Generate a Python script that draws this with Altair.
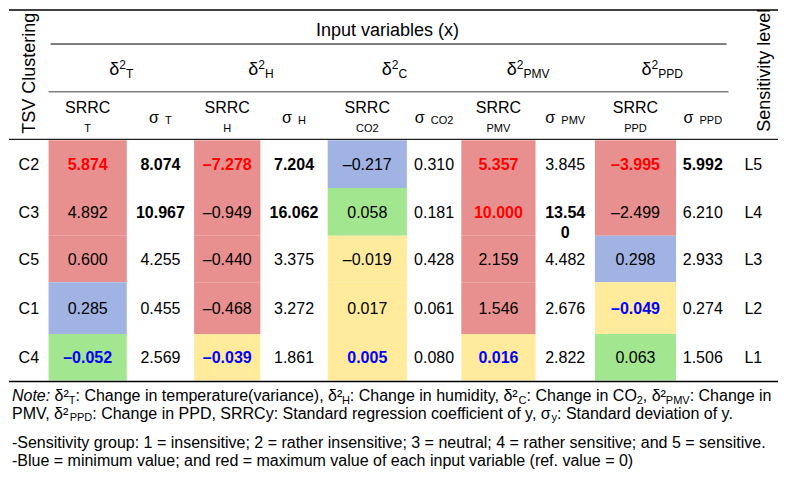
import altair as alt
import pandas as pd

# ---------------- data ----------------
clusters = ["C2", "C3", "C5", "C1", "C4"]
levels = ["L5", "L4", "L3", "L2", "L1"]

srrc_T = [5.874, 4.892, 0.600, 0.285, -0.052]
sigma_T = [8.074, 10.967, 4.255, 0.455, 2.569]
srrc_H = [-7.278, -0.949, -0.440, -0.468, -0.039]
sigma_H = [7.204, 16.062, 3.375, 3.272, 1.861]
srrc_CO2 = [-0.217, 0.058, -0.019, 0.017, 0.005]
sigma_CO2 = [0.310, 0.181, 0.428, 0.061, 0.080]
srrc_PMV = [5.357, 10.000, 2.159, 1.546, 0.016]
sigma_PMV = [3.845, 13.540, 4.482, 2.676, 2.822]
srrc_PPD = [-3.995, -2.499, 0.298, -0.049, 0.063]
sigma_PPD = [5.992, 6.210, 2.933, 0.274, 1.506]

# colour band of each SRRC cell
band_T = ["red", "red", "red", "blue", "green"]
band_H = ["red", "red", "red", "red", "yellow"]
band_CO2 = ["blue", "green", "yellow", "yellow", "yellow"]
band_PMV = ["red", "red", "red", "red", "yellow"]
band_PPD = ["red", "red", "blue", "yellow", "green"]

# highlighted extremes in each SRRC column
extreme_T = ["max", "", "", "", "min"]
extreme_H = ["max", "", "", "", "min"]
extreme_CO2 = ["", "", "", "", "min"]
extreme_PMV = ["max", "max", "", "", "min"]
extreme_PPD = ["max", "", "", "min", ""]

# bold sigma entries
bold_T = [1, 1, 0, 0, 0]
bold_H = [1, 1, 0, 0, 0]
bold_CO2 = [0, 0, 0, 0, 0]
bold_PMV = [0, 1, 0, 0, 0]
bold_PPD = [1, 0, 0, 0, 0]

var_subs = ["T", "H", "CO2", "PMV", "PPD"]
delta_subs = ["T", "H", "C", "PMV", "PPD"]

title_inputs = "Input variables (x)"
title_rows = "TSV Clustering"
title_level = "Sensitivity level"

note1 = [("Note:", "ital"), (" δ²", "main"), ("T", "sub"),
         (": Change in temperature(variance), δ²", "main"), ("H", "sub"),
         (": Change in humidity, δ²", "main"), ("C", "sub"),
         (": Change in CO", "main"), ("2", "sub"), (", δ²", "main"), ("PMV", "sub"),
         (": Change in", "main")]
note2 = [("PMV, δ²", "main"), ("PPD", "sub"),
         (": Change in PPD, SRRCy: Standard regression coefficient of y, σ", "main"),
         ("y", "sub"), (": Standard deviation of y.", "main")]
note3 = "-Sensitivity group: 1 = insensitive; 2 = rather insensitive; 3 = neutral; 4 = rather sensitive; and 5 = sensitive."
note4 = "-Blue = minimum value; and red = maximum value of each input variable (ref. value = 0)"

srrc_all = [srrc_T, srrc_H, srrc_CO2, srrc_PMV, srrc_PPD]
sigma_all = [sigma_T, sigma_H, sigma_CO2, sigma_PMV, sigma_PPD]
band_all = [band_T, band_H, band_CO2, band_PMV, band_PPD]
extreme_all = [extreme_T, extreme_H, extreme_CO2, extreme_PMV, extreme_PPD]
bold_all = [bold_T, bold_H, bold_CO2, bold_PMV, bold_PPD]

# ---------------- layout / style ----------------
W_PX, H_PX = 771, 464
DX, DY = 778, 476
KX = W_PX / DX
FONT = "Liberation Sans, Arial, sans-serif"
band_color = {"red": "#E8908F", "blue": "#A1B3E3", "green": "#A2E68F", "yellow": "#FFEB9B"}
ext_color = {"max": "#FF0000", "min": "#0000FF", "": "#000000"}

col_edges = [40, 119, 187, 254, 322, 402, 457, 532, 592, 674, 728]
row_edges = [135, 184, 233, 281, 334, 382]

Wd = {' ': 278, '(': 333, ')': 333, ',': 278, '-': 333, '.': 278, ':': 278, ';': 278,
      '=': 584, 'δ': 556, 'σ': 617, '²': 333, '–': 556}
for c in "0123456789":
    Wd[c] = 556
Wd.update(dict(A=667, B=667, C=722, D=722, E=667, F=611, G=778, H=722, I=278, J=500, K=667,
               L=556, M=833, N=722, O=778, P=667, Q=778, R=722, S=667, T=611, U=722, V=667,
               W=944, X=667, Y=667, Z=611))
Wd.update(dict(a=556, b=556, c=500, d=556, e=556, f=278, g=556, h=556, i=222, j=222, k=500,
               l=222, m=833, n=556, o=556, p=556, q=556, r=333, s=500, t=278, u=556, v=500,
               w=722, x=500, y=500, z=500))


def tw(s, size):
    return sum(Wd.get(c, 556) for c in s) * size / 1000 / KX


items = []


def add(x, y, text, size, color="#000000", weight="normal", style="normal",
        align="center", baseline="middle", angle=0):
    items.append(dict(x=x, y=y, text=text, size=size, color=color, weight=weight,
                      style=style, align=align, baseline=baseline, angle=angle))


def chain(segs, x, y, sizes, align="left", sub_dy=3, sup_dy=-7):
    widths = [tw(t, sizes[k]) for t, k in segs]
    if align == "center":
        x -= sum(widths) / 2
    for (t, k), w in zip(segs, widths):
        lead = len(t) - len(t.lstrip(" "))
        dy = sub_dy if k == "sub" else (sup_dy if k == "sup" else 0)
        add(x + tw(" " * lead, sizes[k]), y + dy, t.strip(" "),
            sizes[k], style="italic" if k == "ital" else "normal",
            align="left", baseline="alphabetic")
        x += w


def fmt(v, col_w):
    s = f"{v:.3f}".replace("-", "–")
    if col_w < 62 and len(s) > 5:
        s = s[:5] + "\n" + s[5:]
    return s


def ccenter(j):
    return (col_edges[j] + col_edges[j + 1]) / 2


row_mid = [(row_edges[r] + row_edges[r + 1]) / 2 + 1 for r in range(len(clusters))]

# rects
rects = []
for i in range(5):
    for r in range(len(clusters)):
        rects.append(dict(x=col_edges[2 * i], x2=col_edges[2 * i + 1],
                          y=row_edges[r], y2=row_edges[r + 1],
                          color=band_color[band_all[i][r]]))
rect_df = pd.DataFrame(rects)

# cell texts
for r in range(len(clusters)):
    add(20, row_mid[r], clusters[r], 16)
    add(752, row_mid[r], levels[r], 16)
    for i in range(5):
        j = 2 * i
        e = extreme_all[i][r]
        add(ccenter(j), row_mid[r], fmt(srrc_all[i][r], 999), 16, color=ext_color[e],
            weight="bold" if e else "normal")
        cw = col_edges[j + 2] - col_edges[j + 1]
        add(ccenter(j + 1), row_mid[r], fmt(sigma_all[i][r], cw), 16,
            weight="bold" if bold_all[i][r] else "normal")

# headers
add((40 + 725) / 2, 23, title_inputs, 18)
add(21, 66, title_rows, 18, angle=270)
add(764, 63, title_level, 18, angle=270)
for i in range(5):
    j = 2 * i
    gc = (col_edges[j] + col_edges[j + 2]) / 2
    chain([("δ", "main"), ("2", "sup"), (delta_subs[i], "sub")], gc, 68,
          {"main": 18, "sup": 12, "sub": 12}, align="center", sub_dy=3, sup_dy=-6)
    add(ccenter(j), 102, "SRRC", 16)
    add(ccenter(j), 123, var_subs[i], 11)
    chain([("σ", "main"), ("  " + var_subs[i], "sub")], ccenter(j + 1), 117,
          {"main": 16, "sub": 11}, align="center", sub_dy=1)

# notes
chain(note1, 3, 403, {"main": 16, "sub": 11, "ital": 16})
chain(note2, 3, 421, {"main": 16, "sub": 11, "ital": 16})
chain([(note3, "main")], 3, 451, {"main": 16})
chain([(note4, "main")], 3, 470, {"main": 16})

text_df = pd.DataFrame(items)

# rules
rule_df = pd.DataFrame(dict(
    x=[0, 42, 40, 0, 0],
    x2=[777, 725, 727, 777, 777],
    y=[1, 36, 85, 134, 383],
    color=["#000000", "#000000", "#808080", "#222222", "#000000"],
    sw=[1.6, 1.0, 1.6, 1.4, 1.4],
))

xs = alt.Scale(domain=[0, DX], nice=False, zero=False)
ys = alt.Scale(domain=[0, DY], nice=False, zero=False, reverse=True)

rect_layer = alt.Chart(rect_df).mark_rect().encode(
    x=alt.X("x:Q", scale=xs, axis=None), x2="x2:Q",
    y=alt.Y("y:Q", scale=ys, axis=None), y2="y2:Q",
    color=alt.Color("color:N", scale=None),
)
rule_layer = alt.Chart(rule_df).mark_rule().encode(
    x=alt.X("x:Q", scale=xs, axis=None), x2="x2:Q",
    y=alt.Y("y:Q", scale=ys, axis=None),
    color=alt.Color("color:N", scale=None),
    strokeWidth=alt.StrokeWidth("sw:Q", scale=None),
)

layers = [rect_layer, rule_layer]
for key, g in text_df.groupby(["weight", "style", "align", "baseline", "angle"]):
    weight, style, align, baseline, angle = key
    layers.append(
        alt.Chart(g.reset_index(drop=True)).mark_text(
            font=FONT, fontWeight=weight, fontStyle=style, align=align,
            baseline=baseline, angle=int(angle), lineBreak="\n", lineHeight=20,
        ).encode(
            x=alt.X("x:Q", scale=xs, axis=None),
            y=alt.Y("y:Q", scale=ys, axis=None),
            text=alt.Text("text:N"),
            size=alt.Size("size:Q", scale=None),
            color=alt.Color("color:N", scale=None),
        )
    )

chart = alt.layer(*layers).properties(
    width=W_PX, height=H_PX, padding=0,
    autosize=alt.AutoSizeParams(type="fit", contains="padding"),
    background="white",
).configure_view(stroke=None)

chart.save("out.html", embed_options={"renderer": "svg", "actions": False})
